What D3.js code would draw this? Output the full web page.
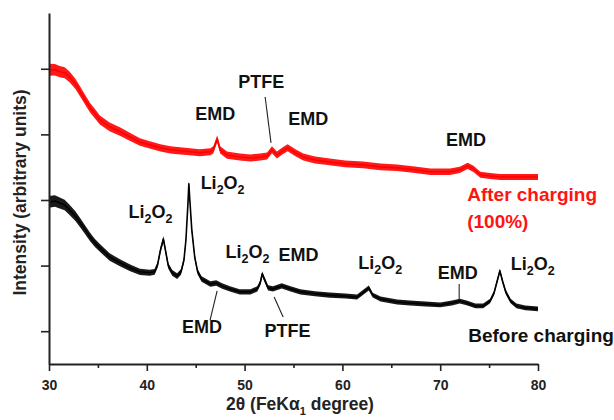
<!DOCTYPE html>
<html>
<head>
<meta charset="utf-8">
<script src="https://cdn.jsdelivr.net/npm/d3@7/dist/d3.min.js"></script>
<style>
  html, body { margin: 0; padding: 0; background: #fff; }
  svg { display: block; font-family: "Liberation Sans", Arial, Helvetica, sans-serif; font-weight: bold; }
</style>
</head>
<body>
<svg id="chart" width="614" height="420"></svg>
<script>
// XRD patterns of the cathode, after charging (red) and before charging (black)
const redAngle = [30.0, 30.6, 31.1, 31.6, 32.1, 32.7, 33.2, 33.7, 34.2, 34.7, 35.2, 36.2, 37.3, 38.3, 39.3, 40.3,
  41.4, 42.4, 43.4, 44.4, 45.4, 46.5, 46.8, 47.2, 47.5, 48.2, 49.5, 50.6, 51.6, 52.3, 52.8, 53.3, 53.9, 54.4,
  55.2, 56.0, 57.2, 58.7, 60.3, 62.1, 63.9, 65.6, 67.4, 69.0, 71.0, 72.0, 72.8, 73.4, 74.1, 75.1, 76.1, 77.7, 80.0];
const redIntensity = [897, 897, 891, 888, 875, 854, 830, 805, 781, 763, 744, 723, 708, 692, 677, 668,
  659, 653, 650, 647, 644, 647, 653, 686, 653, 637, 631, 628, 631, 634, 653, 637, 650, 659,
  644, 631, 622, 616, 610, 607, 601, 598, 592, 586, 586, 592, 604, 595, 577, 573, 570, 570, 570];

const blackAngle = [30.0, 30.6, 31.1, 31.6, 32.1, 32.7, 33.2, 33.7, 34.2, 34.7, 35.2, 36.2, 37.3, 38.3, 39.3, 40.3,
  40.8, 41.1, 41.4, 41.7, 41.9, 42.2, 42.6, 43.1, 43.5, 43.8, 44.0, 44.2, 44.3, 44.4, 44.6, 44.9, 45.2, 45.6,
  46.5, 47.1, 47.7, 48.5, 49.5, 50.6, 51.3, 51.6, 51.8, 52.1, 52.4, 52.9, 53.8, 54.7, 55.7, 57.2, 58.7, 60.3,
  61.5, 62.2, 62.7, 63.1, 63.9, 65.6, 66.9, 68.5, 70.0, 71.2, 72.0, 72.7, 73.6, 74.4, 75.1, 75.5, 75.8, 76.1,
  76.4, 76.7, 77.2, 77.8, 78.7, 80.0];
const blackIntensity = [494, 497, 491, 485, 470, 451, 430, 409, 387, 369, 354, 326, 308, 293, 281, 278,
  281, 302, 348, 381, 348, 299, 278, 268, 281, 317, 378, 485, 549, 500, 409, 326, 281, 259,
  244, 247, 238, 229, 220, 220, 229, 247, 275, 253, 232, 229, 238, 229, 220, 214, 210, 207,
  204, 220, 232, 210, 198, 189, 186, 183, 180, 186, 192, 186, 177, 177, 192, 216, 250, 284,
  250, 220, 192, 177, 171, 168];

// scatter of the counting noise around each trace (half-width, intensity units)
const spreadAngle = [30, 35, 40, 50, 80];
const redSpread = [18, 14, 11, 11, 9];
const blackSpread = [18, 12, 9, 8, 7];

const xTicks = [30, 40, 50, 60, 70, 80];
const xMinorTicks = [35, 45, 55, 65, 75];
const yTicks = [100, 300, 500, 700, 900];

const svg = d3.select("#chart");
const margin = { top: 13, right: 76, bottom: 56, left: 49 };
const W = 614, H = 420;

const x = d3.scaleLinear().domain([30, 80]).range([margin.left, W - margin.right]);
const y = d3.scaleLinear().domain([0, 1070]).range([H - margin.bottom, margin.top]);

function drawTrace(angles, values, spreadVals, color) {
  const spread = d3.scaleLinear().domain(spreadAngle).range(spreadVals);
  const pts = angles.map((a, i) => ({ a, v: values[i] }));
  const area = d3.area()
    .x(d => x(d.a))
    .y0(d => y(d.v - spread(d.a)))
    .y1(d => y(d.v + spread(d.a)))
    .curve(d3.curveLinear);
  svg.append("path").datum(pts)
    .attr("d", area)
    .attr("fill", color)
    .attr("fill-opacity", 0.9);
  const line = d3.line().x(d => x(d.a)).y(d => y(d.v));
  svg.append("path").datum(pts)
    .attr("d", line)
    .attr("fill", "none")
    .attr("stroke", color)
    .attr("stroke-width", 1.6)
    .attr("stroke-linejoin", "round");
}

drawTrace(redAngle, redIntensity, redSpread, "#ff0000");
drawTrace(blackAngle, blackIntensity, blackSpread, "#000000");

// axes
const axisColor = "#222";
const gx = svg.append("g").attr("transform", `translate(0,${H - margin.bottom})`)
  .call(d3.axisBottom(x).tickValues(xTicks).tickSize(7).tickSizeOuter(0).tickFormat(d3.format("d")));
const gxm = svg.append("g").attr("transform", `translate(0,${H - margin.bottom})`)
  .call(d3.axisBottom(x).tickValues(xMinorTicks).tickSize(4).tickSizeOuter(0).tickFormat(""));
gxm.select(".domain").remove();
const gy = svg.append("g").attr("transform", `translate(${margin.left},0)`)
  .call(d3.axisLeft(y).tickValues(yTicks).tickSize(8).tickSizeOuter(0).tickFormat(""));

[gx, gxm, gy].forEach(g => {
  g.selectAll(".domain").attr("stroke", axisColor).attr("stroke-width", 2);
  g.selectAll(".tick line").attr("stroke", axisColor).attr("stroke-width", 1.6);
});
gx.selectAll(".tick text")
  .attr("y", 16).attr("dy", "0.71em")
  .attr("fill", "#222")
  .style("font-size", "14px").style("font-weight", "bold")
  .style("font-family", "'Liberation Sans', Arial, sans-serif");

// axis titles
const xt = svg.append("text")
  .attr("x", 300).attr("y", 410)
  .attr("text-anchor", "middle")
  .attr("fill", "#222")
  .style("font-size", "17.5px");
xt.append("tspan").text("2\u03b8 (FeK\u03b1");
xt.append("tspan").attr("dy", 5).style("font-size", "11px").text("1");
xt.append("tspan").attr("dy", -5).text(" degree)");

svg.append("text")
  .attr("transform", `translate(26,${(margin.top + H - margin.bottom) / 2 + 4}) rotate(-90)`)
  .attr("text-anchor", "middle")
  .attr("fill", "#222")
  .style("font-size", "17.5px")
  .text("Intensity (arbitrary units)");

// peak assignments
const peakLabels = [
  { text: "EMD", a: 47.0, v: 744, color: "#111" },
  { text: "PTFE", a: 51.7, v: 842, color: "#111" },
  { text: "EMD", a: 56.5, v: 729, color: "#111" },
  { text: "EMD", a: 72.65, v: 665, color: "#111" },
  { text: "Li2O2", a: 40.38, v: 445, color: "#111" },
  { text: "Li2O2", a: 47.75, v: 534, color: "#111" },
  { text: "Li2O2", a: 50.3, v: 323, color: "#111" },
  { text: "EMD", a: 55.52, v: 314, color: "#111" },
  { text: "EMD", a: 45.65, v: 95, color: "#111" },
  { text: "PTFE", a: 54.4, v: 82, color: "#111" },
  { text: "Li2O2", a: 63.86, v: 290, color: "#111" },
  { text: "EMD", a: 71.79, v: 259, color: "#111" },
  { text: "Li2O2", a: 79.46, v: 287, color: "#111" }
];

peakLabels.forEach(l => {
  const t = svg.append("text")
    .attr("x", x(l.a)).attr("y", y(l.v))
    .attr("text-anchor", "middle")
    .attr("fill", l.color)
    .style("font-size", "18px");
  if (l.text === "Li2O2") {
    t.append("tspan").text("Li");
    t.append("tspan").attr("dy", 5).style("font-size", "12.5px").text("2");
    t.append("tspan").attr("dy", -5).text("O");
    t.append("tspan").attr("dy", 5).style("font-size", "12.5px").text("2");
  } else {
    t.text(l.text);
  }
});

// leader lines from labels to their peaks
const leaders = [
  [52.1, 814, 52.7, 674],
  [47.19, 223, 46.47, 134],
  [53.02, 204, 53.94, 143],
  [71.94, 244, 71.94, 195]
];
leaders.forEach(([a1, v1, a2, v2]) => {
  svg.append("line")
    .attr("x1", x(a1)).attr("y1", y(v1))
    .attr("x2", x(a2)).attr("y2", y(v2))
    .attr("stroke", "#222").attr("stroke-width", 1.1);
});

// trace names
const afterLabel = svg.append("text")
  .attr("x", x(72.76)).attr("y", y(497))
  .attr("fill", "#ff1414")
  .style("font-size", "19px");
afterLabel.append("tspan").text("After charging");
afterLabel.append("tspan").attr("x", x(72.76)).attr("dy", 27).text("(100%)");

svg.append("text")
  .attr("x", x(72.86)).attr("y", y(67))
  .attr("fill", "#111")
  .style("font-size", "19px")
  .text("Before charging");
</script>
</body>
</html>
